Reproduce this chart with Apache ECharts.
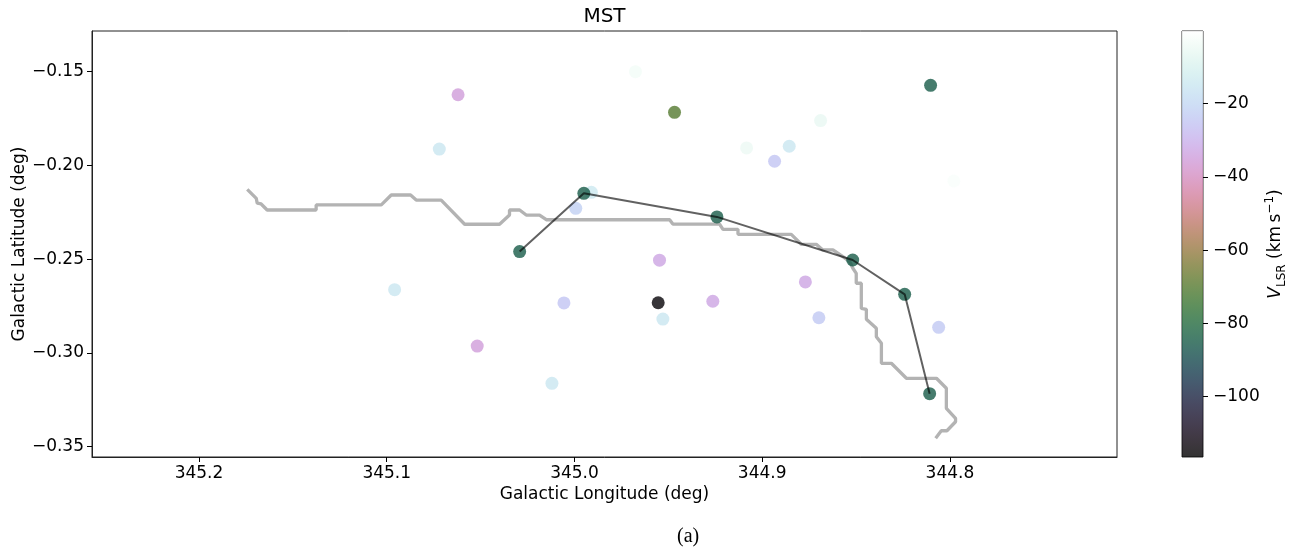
<!DOCTYPE html>
<html>
<head>
<meta charset="utf-8">
<script src="https://cdn.jsdelivr.net/npm/echarts@6/dist/echarts.min.js"></script>
<style>
  html, body { margin: 0; padding: 0; background: #fff; }
  #chart { width: 1293px; height: 558px; }
</style>
</head>
<body>
<div id="chart"></div>
<script>
// clumps (not on the tree) : longitude, latitude, V_LSR
const clumpLon = [345.062, 345.072, 344.991, 344.9993, 345.0958, 345.0056, 345.0518, 345.012,
  344.9675, 344.9467, 344.8103, 344.8689, 344.9083, 344.8856, 344.8934, 344.7979,
  344.9547, 344.9554, 344.9529, 344.9263, 344.877, 344.8698, 344.806]
const clumpLat = [-0.1623, -0.1913, -0.2144, -0.2229, -0.2663, -0.2734, -0.2964, -0.3163,
  -0.1500, -0.1717, -0.1573, -0.1761, -0.1907, -0.1898, -0.1978, -0.2083,
  -0.2506, -0.2733, -0.2820, -0.2725, -0.2622, -0.2813, -0.2864]
const clumpV = [-35, -15, -14, -22, -15, -25, -35, -15,
  -3, -70, -85, -6, -5, -15, -25, -1.5,
  -33, -115, -15, -33, -33, -24, -24]

// MST nodes, in path order
const nodeLon = [345.0292, 344.995, 344.9241, 344.8518, 344.8241, 344.8108]
const nodeLat = [-0.2460, -0.2149, -0.2275, -0.2505, -0.2688, -0.3218]
const nodeV = [-85, -85, -85, -85, -85, -85]

// grey skeleton / contour line
const ridgeLon = [345.1743, 345.1695, 345.1690, 345.1669, 345.1637, 345.1376, 345.1376, 345.1029,
  345.0976, 345.0873, 345.0843, 345.0710, 345.0585, 345.0399, 345.0346, 345.0346, 345.0292,
  345.0257, 345.0186, 345.0150, 344.9493, 344.9476, 344.9227, 344.9209, 344.9129, 344.9129,
  344.8845, 344.8792, 344.8712, 344.8677, 344.8623, 344.8570, 344.8534, 344.8517, 344.8499,
  344.8499, 344.8472, 344.8472, 344.8445, 344.8445, 344.8392, 344.8392, 344.8365, 344.8365,
  344.8312, 344.8232, 344.8072, 344.8019, 344.8019, 344.7970, 344.7970, 344.8016, 344.8046, 344.8076]
const ridgeLat = [-0.2128, -0.2176, -0.2202, -0.2206, -0.2238, -0.2238, -0.2211, -0.2211,
  -0.2158, -0.2158, -0.2185, -0.2185, -0.2314, -0.2314, -0.2265, -0.2238, -0.2238,
  -0.2265, -0.2265, -0.2290, -0.2290, -0.2313, -0.2313, -0.2341, -0.2341, -0.2368,
  -0.2368, -0.2421, -0.2421, -0.2451, -0.2451, -0.2487, -0.2514, -0.2549, -0.2576,
  -0.2629, -0.2629, -0.2763, -0.2768, -0.2821, -0.2869, -0.2914, -0.2949, -0.3056,
  -0.3056, -0.3136, -0.3136, -0.3189, -0.3296, -0.3350, -0.3368, -0.3416, -0.3416, -0.3456]

const xTicks = [344.8, 344.9, 345.0, 345.1, 345.2]
const yTicks = [-0.35, -0.30, -0.25, -0.20, -0.15]
const cbTicks = [-100, -80, -60, -40, -20]
const vMin = -116.5
const vMax = -0.15

// matplotlib cubehelix colormap
function cubehelix (x) {
  const a = x * (1 - x) / 2
  const phi = 2 * Math.PI * (0.5 / 3 - 1.5 * x)
  const c = Math.cos(phi)
  const s = Math.sin(phi)
  const ch = [
    x + a * (-0.14861 * c + 1.78277 * s),
    x + a * (-0.29227 * c - 0.90649 * s),
    x + a * (1.97294 * c)
  ]
  return '#' + ch.map(v => {
    const n = Math.round(Math.min(1, Math.max(0, v)) * 255)
    return n.toString(16).padStart(2, '0')
  }).join('')
}
const cmap = []
for (let i = 0; i <= 40; i++) cmap.push(cubehelix(i / 40))

const minus = s => s.replace('-', '\u2212')
const font = 'DejaVu Sans'

const scatterData = clumpLon.map((x, i) => [x, clumpLat[i], clumpV[i]])
  .concat(nodeLon.map((x, i) => [x, nodeLat[i], nodeV[i]]))

const chart = echarts.init(document.getElementById('chart'))
chart.setOption({
  animation: false,
  backgroundColor: '#fff',
  textStyle: { fontFamily: font },
  title: {
    text: 'MST',
    left: 604.5,
    top: 7,
    padding: 0,
    textAlign: 'center',
    textStyle: { fontSize: 20, fontWeight: 'normal', color: '#000', fontFamily: font }
  },
  grid: [
    { left: 92, right: 176, top: 31, bottom: 101, containLabel: false, outerBoundsMode: 'none', show: true, borderColor: '#222', borderWidth: 1 },
    { left: 1182, width: 21, top: 31, height: 426, containLabel: false, outerBoundsMode: 'none', show: true, borderColor: '#333', borderWidth: 1 }
  ],
  xAxis: [
    {
      gridIndex: 0,
      type: 'value',
      inverse: true,
      min: 344.711,
      max: 345.257,
      name: 'Galactic Longitude (deg)',
      nameLocation: 'middle',
      nameGap: 29,
      nameMoveOverlap: false,
      nameTextStyle: { fontSize: 17, color: '#000', fontFamily: font },
      axisLine: { show: true, onZero: false, lineStyle: { color: '#222', width: 1 } },
      axisTick: { show: true, length: 5, lineStyle: { color: '#000' }, customValues: xTicks },
      axisLabel: { fontSize: 17, color: '#000', margin: 8, customValues: xTicks, formatter: v => v.toFixed(1) },
      splitLine: { show: false }
    },
    {
      gridIndex: 1,
      type: 'category',
      data: ['cb'],
      show: false
    }
  ],
  yAxis: [
    {
      gridIndex: 0,
      type: 'value',
      min: -0.3556,
      max: -0.1283,
      name: 'Galactic Latitude (deg)',
      nameLocation: 'middle',
      nameGap: 64,
      nameMoveOverlap: false,
      nameTextStyle: { fontSize: 17, color: '#000', fontFamily: font },
      axisLine: { show: true, onZero: false, lineStyle: { color: '#222', width: 1 } },
      axisTick: { show: true, length: 5, lineStyle: { color: '#000' }, customValues: yTicks },
      axisLabel: { fontSize: 17, color: '#000', margin: 8, customValues: yTicks, formatter: v => minus(v.toFixed(2)) },
      splitLine: { show: false }
    },
    {
      gridIndex: 1,
      type: 'value',
      position: 'right',
      min: vMin,
      max: vMax,
      name: '{i|V}{sub|LSR}{n| (km\u2009s}{sup|\u22121}{n|)}',
      nameLocation: 'middle',
      nameRotate: 90,
      nameGap: 60,
      nameTextStyle: {
        color: '#000',
        rich: {
          i: { fontSize: 17, fontStyle: 'italic', fontFamily: font, lineHeight: 24, color: '#000' },
          n: { fontSize: 17, fontFamily: font, lineHeight: 24, color: '#000' },
          sub: { fontSize: 12, fontFamily: font, verticalAlign: 'bottom', lineHeight: 24, color: '#000' },
          sup: { fontSize: 12, fontFamily: font, verticalAlign: 'top', lineHeight: 24, color: '#000' }
        }
      },
      axisLine: { show: false },
      axisTick: { show: true, length: 5, lineStyle: { color: '#000' }, customValues: cbTicks },
      axisLabel: { fontSize: 17, color: '#000', margin: 10, customValues: cbTicks, formatter: v => minus(String(v)) },
      splitLine: { show: false }
    }
  ],
  visualMap: {
    type: 'continuous',
    show: false,
    seriesIndex: 1,
    dimension: 2,
    min: vMin,
    max: vMax,
    inRange: { color: cmap }
  },
  series: [
    {
      name: 'skeleton',
      type: 'line',
      xAxisIndex: 0,
      yAxisIndex: 0,
      data: ridgeLon.map((x, i) => [x, ridgeLat[i]]),
      showSymbol: false,
      silent: true,
      lineStyle: { color: '#b3b3b3', width: 3.3 },
      z: 1
    },
    {
      name: 'clumps',
      type: 'scatter',
      xAxisIndex: 0,
      yAxisIndex: 0,
      data: scatterData,
      symbolSize: 13,
      itemStyle: { opacity: 0.8 },
      z: 2
    },
    {
      name: 'mst',
      type: 'line',
      xAxisIndex: 0,
      yAxisIndex: 0,
      data: nodeLon.map((x, i) => [x, nodeLat[i]]),
      showSymbol: false,
      silent: true,
      lineStyle: { color: 'rgba(0,0,0,0.62)', width: 2 },
      z: 3
    },
    {
      name: 'colorbar',
      type: 'bar',
      xAxisIndex: 1,
      yAxisIndex: 1,
      data: [vMin],
      barWidth: '100%',
      silent: true,
      itemStyle: {
        opacity: 0.8,
        color: new echarts.graphic.LinearGradient(0, 31, 0, 457,
          cmap.slice().reverse().map((c, i, arr) => ({ offset: i / (arr.length - 1), color: c })), true)
      }
    }
  ],
  graphic: [
    {
      type: 'text',
      left: 677,
      top: 527,
      style: { text: '(a)', font: '20px "Liberation Serif"', fill: '#000' }
    }
  ]
})
</script>
</body>
</html>
